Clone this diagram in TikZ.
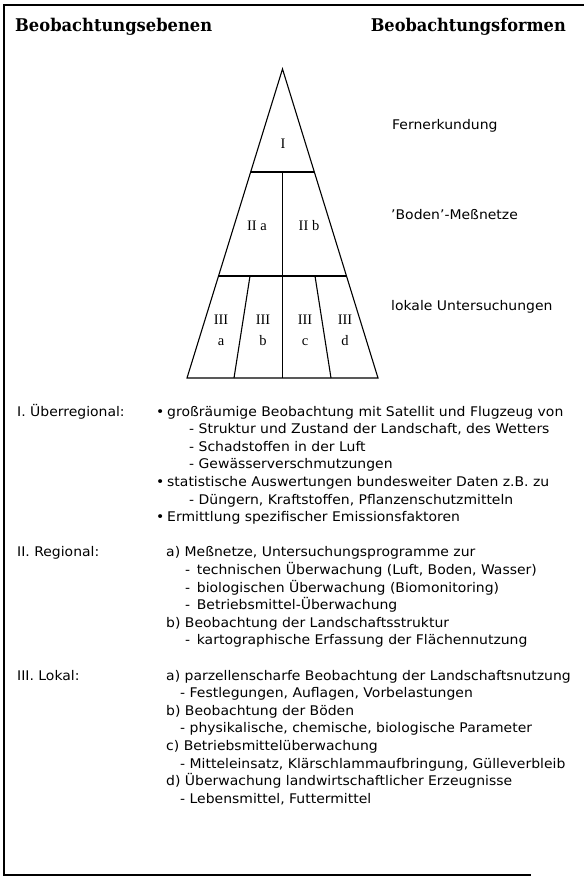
\documentclass[tikz,border=0pt]{standalone}
\usepackage{fontspec}
\usepackage{graphicx}
\setmainfont{DejaVu Sans}[FakeStretch=1.05]
\newfontfamily\trifont{Liberation Serif}
\newfontfamily\headfont{DejaVu Serif}
\newcommand{\fw}[2]{\resizebox{#1pt}{\height}{#2}}
\begin{document}
\begin{tikzpicture}[x=1pt,y=-1pt,
  frame/.style={line width=1.5pt,line cap=rect},
  triline/.style={line width=1.1pt,line join=miter},
  head/.style={inner sep=0pt,font=\headfont\bfseries\fontsize{17.5}{19}\selectfont},
  tri/.style={inner sep=0pt,align=center,font=\trifont\fontsize{14.5}{21}\selectfont},
  body/.style={anchor=base west,inner sep=0pt,font=\fontsize{13.3}{15}\selectfont}]
\useasboundingbox (0,0) rectangle (583,877);
% frame
\draw[frame] (583,5) -- (4,5) -- (4,875) -- (530,875);
% headers
\node[head,anchor=base west] (h1) at (15,32) {\fw{197}{Beobachtungsebenen}};
\node[head,anchor=base east] (h2) at (566,32) {\fw{195}{Beobachtungsformen}};
% triangle
\coordinate (A) at (282.5,69);
\coordinate (L1) at (250.7,172); \coordinate (R1) at (314.3,172);
\coordinate (L2) at (218.5,276); \coordinate (R2) at (346.5,276);
\coordinate (L3) at (187,378);   \coordinate (R3) at (378,378);
\coordinate (M1) at (282.5,172); \coordinate (M3) at (282.5,378);
\coordinate (P1) at (250,276); \coordinate (Q1) at (234,378);
\coordinate (P2) at (315,276); \coordinate (Q2) at (331,378);
\draw[triline] (A) -- (L3) -- (R3) -- cycle;
\draw[triline] (L1) -- (R1);
\draw[triline] (L2) -- (R2);
\draw[triline] (M1) -- (M3);
\draw[triline] (P1) -- (Q1);
\draw[triline] (P2) -- (Q2);
\node[tri] (t1) at (283,144) {I};
\node[tri] (t2a) at (257,226) {II a};
\node[tri] (t2b) at (309,226) {II b};
\node[tri] (t3a) at (221,330) {III\\a};
\node[tri] (t3b) at (263,330) {III\\b};
\node[tri] (t3c) at (305,330) {III\\c};
\node[tri] (t3d) at (345,330) {III\\d};
% right labels
\node[body] (r1) at (392,130) {Fernerkundung};
\node[body] (r2) at (391,219) {'Boden'-Meßnetze};
\node[body] (r3) at (391,310) {lokale Untersuchungen};
% section I
\node[body] (s1) at (17,416) {I. Überregional:};
\node[body] (b1) at (156,416) {•};
\node[body] (i1) at (167,416) {großräumige Beobachtung mit Satellit und Flugzeug von};
\node[body] (i2) at (189,433.6) {- Struktur und Zustand der Landschaft, des Wetters};
\node[body] (i3) at (189,451.2) {- Schadstoffen in der Luft};
\node[body] (i4) at (189,468.8) {- Gewässerverschmutzungen};
\node[body] (b2) at (156,486.4) {•};
\node[body] (i5) at (167,486.4) {statistische Auswertungen bundesweiter Daten z.B. zu};
\node[body] (i6) at (189,504) {- Düngern, Kraftstoffen, Pflanzenschutzmitteln};
\node[body] (b3) at (156,521.6) {•};
\node[body] (i7) at (167,521.6) {Ermittlung spezifischer Emissionsfaktoren};
% section II
\node[body] (s2) at (17,556.8) {II. Regional:};
\node[body] (j1) at (166,556.8) {a) Meßnetze, Untersuchungsprogramme zur};
\node[body] (j2) at (185,574.4) {-\enspace technischen Überwachung (Luft, Boden, Wasser)};
\node[body] (j3) at (185,592) {-\enspace biologischen Überwachung (Biomonitoring)};
\node[body] (j4) at (185,609.6) {-\enspace Betriebsmittel-Überwachung};
\node[body] (j5) at (166,627.2) {b) Beobachtung der Landschaftsstruktur};
\node[body] (j6) at (185,644.8) {-\enspace kartographische Erfassung der Flächennutzung};
% section III
\node[body] (s3) at (17,680) {III. Lokal:};
\node[body] (k1) at (166,680) {a) parzellenscharfe Beobachtung der Landschaftsnutzung};
\node[body] (k2) at (180,697.6) {- Festlegungen, Auflagen, Vorbelastungen};
\node[body] (k3) at (166,715.2) {b) Beobachtung der Böden};
\node[body] (k4) at (180,732.8) {- physikalische, chemische, biologische Parameter};
\node[body] (k5) at (166,750.4) {c) Betriebsmittelüberwachung};
\node[body] (k6) at (180,768) {- Mitteleinsatz, Klärschlammaufbringung, Gülleverbleib};
\node[body] (k7) at (166,785.6) {d) Überwachung landwirtschaftlicher Erzeugnisse};
\node[body] (k8) at (180,803.2) {- Lebensmittel, Futtermittel};
\end{tikzpicture}
\end{document}
